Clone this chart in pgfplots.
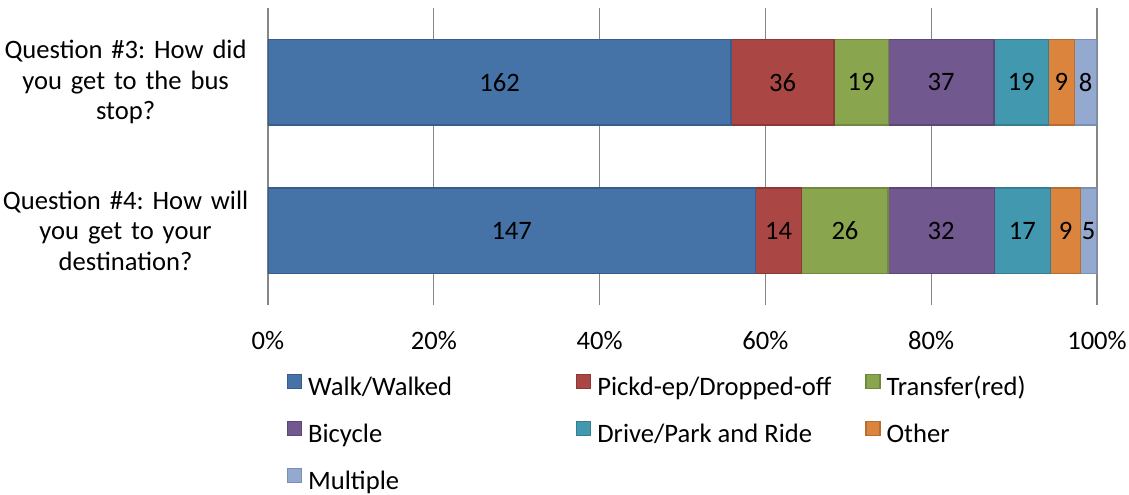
\documentclass[border=0pt]{standalone}
\usepackage{fontspec}
\setmainfont{Carlito}
\usepackage{pgfplots}
\usepackage{pgfplotstable}
\pgfplotsset{compat=1.18}
\frenchspacing

\definecolor{cWalk}{HTML}{4572A7}\definecolor{bWalk}{HTML}{385D8A}
\definecolor{cPick}{HTML}{AA4643}\definecolor{bPick}{HTML}{8C3836}
\definecolor{cTran}{HTML}{89A54E}\definecolor{bTran}{HTML}{71893F}
\definecolor{cBike}{HTML}{71588F}\definecolor{bBike}{HTML}{5C4776}
\definecolor{cDrive}{HTML}{4198AF}\definecolor{bDrive}{HTML}{357D91}
\definecolor{cOther}{HTML}{DB843D}\definecolor{bOther}{HTML}{B66D31}
\definecolor{cMult}{HTML}{93A9CF}\definecolor{bMult}{HTML}{7B8EB3}
\definecolor{gridgray}{HTML}{868686}

\pgfplotstableread{
q t walk pick transfer bicycle drive other multiple
1 290 162 36 19 37 19 9 8
0 250 147 14 26 32 17 9 5
}\data

\newcommand{\seg}[4]{%
  \addplot[fill=#2, draw=#3, line width=0.6pt,
    point meta=explicit,
    nodes near coords={\pgfmathprintnumber[assume math mode=true,fixed,precision=0]{\pgfplotspointmeta}},
    every node near coord/.style={anchor=center, text=black, inner sep=0pt}]
    table[y=q, x expr=\thisrow{#1}/\thisrow{t}*100, meta=#1] {\data};
  \addlegendentry{#4}}

\begin{document}
\begin{tikzpicture}[font=\fontsize{13.3}{15.25}\selectfont]
\begin{axis}[
  at={(0,0)}, anchor=south west,
  scale only axis, width=414.5pt, height=148.5pt,
  xbar stacked, bar width=0.575,
  xmin=0, xmax=100, ymin=-0.5, ymax=1.5,
  xtick={0,20,40,60,80,100},
  xticklabels={0\%,20\%,40\%,60\%,80\%,100\%},
  ytick={0,1},
  yticklabels={{Question \#4: How will\\you get to your\\destination?},{Question \#3: How did\\you get to the bus\\stop?}},
  xmajorgrids, grid style={draw=gridgray, line width=0.6pt},
  axis x line*=bottom, axis y line*=left,
  x axis line style={draw=none},
  y axis line style={draw=gridgray, line width=0.6pt},
  tick style={draw=none},
  tick label style={font=\fontsize{13.3}{15.25}\selectfont},
  xticklabel style={inner sep=0pt, yshift=-13pt},
  yticklabel style={align=center, text width=125pt, inner sep=0pt, xshift=-8.5pt},
  legend columns=3,
  legend cell align=left,
  legend style={draw=none, fill=none, inner sep=0pt, outer sep=0pt,
    at={(0.0229,-0.231)}, anchor=north west,
    column sep=3pt, row sep=9.75pt,
    nodes={inner sep=0pt, text height=10pt, text depth=3pt},
    font=\fontsize{13.3}{15.25}\selectfont},
  legend image code/.code={\draw[#1] (0pt,0pt) rectangle (7pt,7pt);},
]
\seg{walk}{cWalk}{bWalk}{\makebox[131pt][l]{Walk/Walked}}
\seg{pick}{cPick}{bPick}{\makebox[131pt][l]{Pickd-ep/Dropped-off}}
\seg{transfer}{cTran}{bTran}{Transfer(red)}
\seg{bicycle}{cBike}{bBike}{\makebox[131pt][l]{Bicycle}}
\seg{drive}{cDrive}{bDrive}{\makebox[131pt][l]{Drive/Park and Ride}}
\seg{other}{cOther}{bOther}{Other}
\seg{multiple}{cMult}{bMult}{Multiple}
\end{axis}
\pgfresetboundingbox
\useasboundingbox (-134pt,-94.5pt) rectangle (430.5pt,152.5pt);
\end{tikzpicture}
\end{document}
